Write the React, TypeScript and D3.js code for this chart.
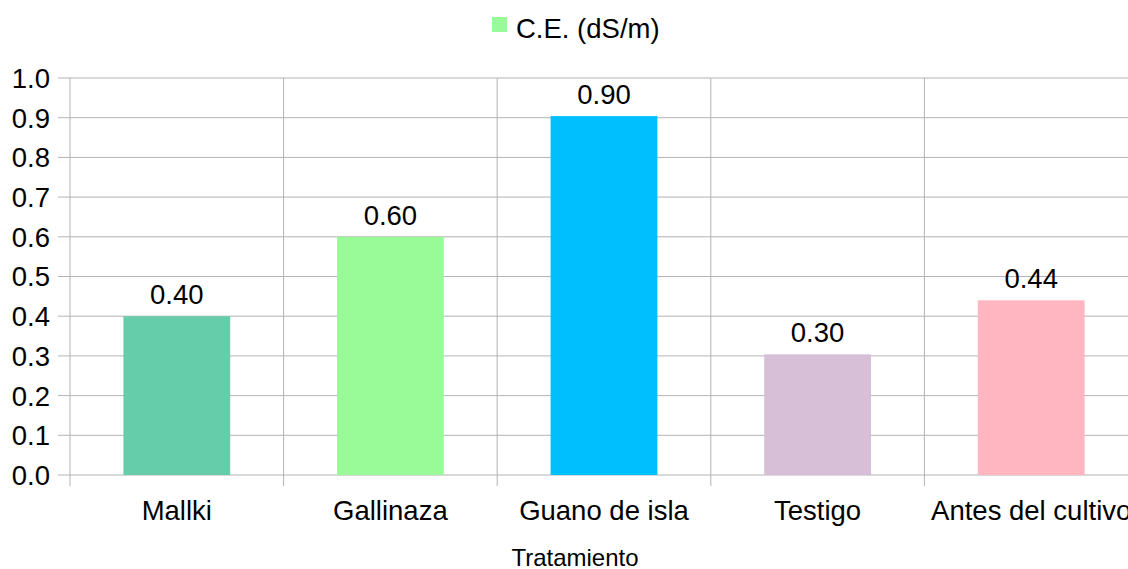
import React from "react";
import * as d3 from "d3";

const categories = ["Mallki", "Gallinaza", "Guano de isla", "Testigo", "Antes del cultivo"];
const values = [0.4, 0.6, 0.904, 0.304, 0.44];
const colors = ["#66cdaa", "#98fb98", "#00bfff", "#d8bfd8", "#ffb6c1"];
const yTicks = [0, 0.1, 0.2, 0.3, 0.4, 0.5, 0.6, 0.7, 0.8, 0.9, 1.0];
const seriesName = "C.E. (dS/m)";
const xTitle = "Tratamiento";

export default function App() {
  const W = 1128, H = 569;
  const left = 70, right = 1138, top = 78, bottom = 475;
  const x = d3.scaleBand<string>().domain(categories).range([left, right]).paddingInner(0.5).paddingOuter(0.25);
  const y = d3.scaleLinear().domain([0, 1]).range([bottom, top]);
  const step = x.step();
  const font = "'Liberation Sans', Arial, sans-serif";
  const grid = "#b3b3b3";
  const fs = 27.5;
  const boundaries = d3.range(categories.length + 1).map((i) => left + i * step);
  return (
    <svg width={W} height={H} style={{ position: "absolute", left: 0, top: 0, background: "#fff" }} fontFamily={font}>
      <rect width={W} height={H} fill="#fff" />
      {yTicks.map((t) => (
        <g key={t}>
          <line x1={58} x2={right} y1={y(t)} y2={y(t)} stroke={grid} strokeWidth={1} />
          <text x={50} y={y(t)} dy="0.36em" textAnchor="end" fontSize={fs} fill="#000">
            {t.toFixed(1)}
          </text>
        </g>
      ))}
      {boundaries.map((b, i) => (
        <line key={i} x1={b} x2={b} y1={top} y2={486} stroke={grid} strokeWidth={1} />
      ))}
      {categories.map((c, i) => (
        <g key={c}>
          <rect x={x(c)} y={y(values[i])} width={x.bandwidth()} height={bottom - y(values[i])} fill={colors[i]} />
          <text x={(x(c) as number) + x.bandwidth() / 2} y={y(values[i]) - 12} textAnchor="middle" fontSize={fs} fill="#000">
            {values[i].toFixed(2)}
          </text>
          <text x={(x(c) as number) + x.bandwidth() / 2} y={520} textAnchor="middle" fontSize={fs} fill="#000">
            {c}
          </text>
        </g>
      ))}
      <text x={575} y={566} textAnchor="middle" fontSize={24} fill="#000">{xTitle}</text>
      <rect x={492} y={17} width={15} height={15} fill={colors[1]} />
      <text x={516} y={38} fontSize={fs} fill="#000">{seriesName}</text>
    </svg>
  );
}
